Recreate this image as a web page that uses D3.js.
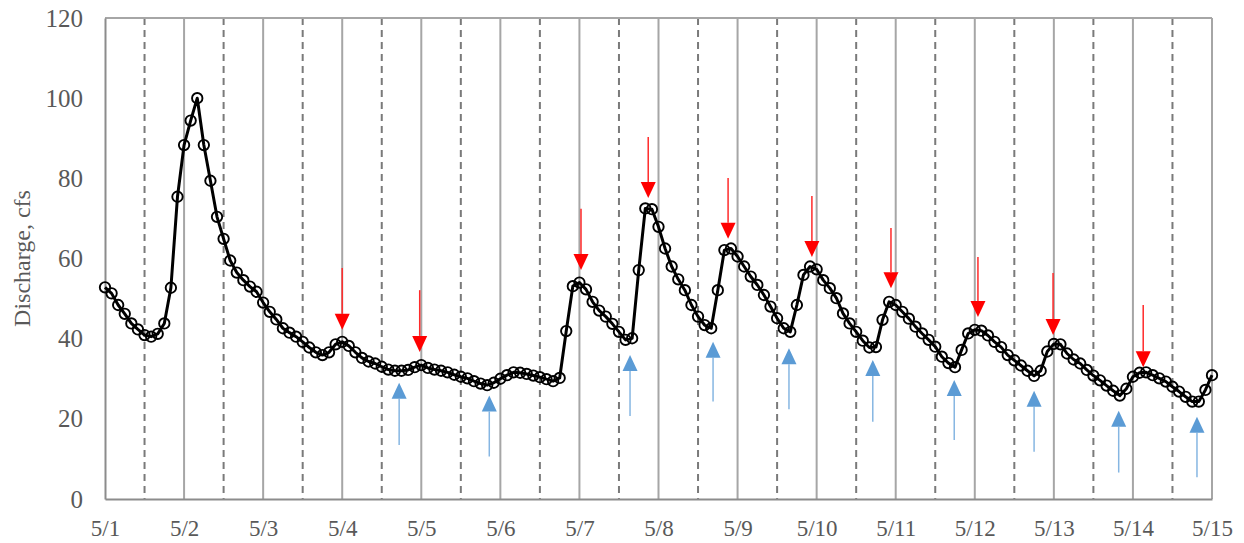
<!DOCTYPE html>
<html>
<head>
<meta charset="utf-8">
<script src="https://cdn.jsdelivr.net/npm/d3@7"></script>
<style>
  html, body { margin: 0; padding: 0; background: #fff; }
  svg { display: block; }
</style>
</head>
<body>
<svg id="chart"></svg>
<script>
// ── Data ─────────────────────────────────────────────
// 2-hourly discharge (cfs), 5/1 00:00 through 5/15 00:00
const START = Date.UTC(2019, 4, 1);
const STEP_HOURS = 2;
const discharge = [
  52.8, 51.3, 48.4, 46.2, 43.8, 42.3, 40.9, 40.5, 41.2, 43.8, 52.7, 75.4,
  88.3, 94.4, 100, 88.3, 79.4, 70.4, 64.9, 59.5, 56.5, 54.6, 53.0, 51.7,
  49.0, 46.7, 44.8, 42.6, 41.5, 40.5, 39.2, 37.8, 36.6, 35.9, 36.6, 38.6,
  39.2, 38.2, 36.6, 35.2, 34.3, 33.8, 33.0, 32.3, 32.0, 32.0, 32.2, 32.9,
  33.4, 32.7, 32.3, 32.0, 31.6, 31.0, 30.5, 30.1, 29.4, 28.8, 28.4, 29.0,
  30.0, 30.9, 31.6, 31.5, 31.2, 30.8, 30.4, 29.9, 29.4, 30.2, 41.9, 53.1,
  54.0, 52.3, 49.2, 47.0, 45.5, 43.7, 41.7, 39.7, 40.1, 57.1, 72.5, 72.3,
  67.9, 62.5, 58.0, 54.8, 52.1, 48.4, 45.5, 43.4, 42.6, 52.1, 62.1, 62.5,
  60.5, 58.0, 55.5, 53.4, 50.9, 48.0, 45.1, 42.6, 41.7, 48.4, 55.9, 58.0,
  57.3, 54.6, 52.6, 50.1, 46.3, 43.8, 41.7, 39.5, 37.8, 37.9, 44.7, 49.2,
  48.4, 46.7, 45.0, 43.0, 41.3, 39.7, 38.0, 35.5, 33.9, 32.9, 37.2, 41.3,
  42.2, 42.0, 40.8, 39.2, 37.9, 35.9, 34.6, 33.3, 32.0, 30.7, 32.0, 36.8,
  38.7, 38.6, 36.3, 34.8, 33.8, 32.2, 30.8, 29.6, 28.3, 27.0, 25.8, 27.5,
  30.5, 31.5, 31.6, 30.9, 30.1, 29.3, 28.0, 26.8, 25.5, 24.3, 24.3, 27.2,
  30.9
];

// peak markers (red, pointing down): day offset from 5/1, tip value, tail value
const peakDay  = [3.0, 3.98, 6.02, 6.87, 7.88, 8.94, 9.94, 11.04, 11.99, 13.13];
const peakTip  = [42.2, 36.7, 57.1, 75.1, 64.9, 60.4, 52.6, 45.4, 40.9, 32.9];
const peakTail = [57.6, 52.1, 72.4, 90.3, 80.1, 75.6, 67.6, 60.4, 56.4, 48.4];

// trough markers (blue, pointing up)
const troughDay  = [3.72, 4.86, 6.64, 7.69, 8.65, 9.71, 10.74, 11.75, 12.82, 13.81];
const troughTip  = [29.0, 25.8, 35.9, 39.2, 37.6, 34.7, 29.7, 27.0, 22.0, 20.5];
const troughTail = [13.5, 10.6, 20.7, 24.3, 22.4, 19.3, 14.7, 11.8, 6.6, 5.4];

const yTicks = [0, 20, 40, 60, 80, 100, 120];
const yLabel = 'Discharge, cfs';

// ── Layout ───────────────────────────────────────────
const W = 1244, H = 543;
const margin = { top: 18, right: 32, bottom: 44, left: 105 };
const iW = W - margin.left - margin.right;
const iH = H - margin.top - margin.bottom;
const FONT = '"Liberation Serif", "Times New Roman", serif';
const TEXT = '#595959';

const DAY = 24 * 3600 * 1000;
const series = discharge.map((v, i) => ({ t: new Date(START + i * STEP_HOURS * 3600 * 1000), v }));
const dayAt = d => new Date(START + d * DAY);

const svg = d3.select('#chart').attr('width', W).attr('height', H);
const g = svg.append('g').attr('transform', `translate(${margin.left},${margin.top})`);

const x = d3.scaleUtc().domain([new Date(START), new Date(START + 14 * DAY)]).range([0, iW]);
const y = d3.scaleLinear().domain([0, 120]).range([iH, 0]);

// ── Grid: solid at midnight, dashed at noon ──────────
const midnights = d3.utcDay.range(new Date(START), new Date(START + 14 * DAY + 1));
const noons = midnights.slice(0, -1).map(d => d3.utcHour.offset(d, 12));

g.append('g').selectAll('line').data(noons).join('line')
  .attr('x1', d => x(d)).attr('x2', d => x(d))
  .attr('y1', 0).attr('y2', iH)
  .attr('stroke', '#7a7a7a').attr('stroke-width', 2)
  .attr('stroke-dasharray', '7 5');

g.append('g').selectAll('line').data(midnights.slice(1)).join('line')
  .attr('x1', d => x(d)).attr('x2', d => x(d))
  .attr('y1', 0).attr('y2', iH)
  .attr('stroke', '#a6a6a6').attr('stroke-width', 2);

// top border
g.append('line')
  .attr('x1', 0).attr('x2', iW).attr('y1', 0).attr('y2', 0)
  .attr('stroke', '#a6a6a6').attr('stroke-width', 2);

// ── Axes ─────────────────────────────────────────────
const axisStyle = size => sel => sel
  .call(ax => ax.select('.domain').attr('stroke', '#8c8c8c').attr('stroke-width', 2))
  .call(ax => ax.selectAll('.tick line').remove())
  .call(ax => ax.selectAll('text').attr('fill', TEXT).attr('font-size', size).attr('font-family', FONT));

g.append('g')
  .call(d3.axisLeft(y).tickValues(yTicks).tickSize(0).tickPadding(22).tickSizeOuter(0))
  .call(axisStyle(25));

g.append('g')
  .attr('transform', `translate(0,${iH})`)
  .call(d3.axisBottom(x).tickValues(midnights).tickFormat(d3.utcFormat('%-m/%-d')).tickSize(0).tickPadding(21).tickSizeOuter(0))
  .call(axisStyle(23));

svg.append('text')
  .attr('transform', `translate(30,${margin.top + iH / 2}) rotate(-90)`)
  .attr('text-anchor', 'middle')
  .attr('fill', TEXT).attr('font-size', 24).attr('font-family', FONT)
  .text(yLabel);

// ── Series ───────────────────────────────────────────
const line = d3.line().x(d => x(d.t)).y(d => y(d.v));

g.append('path')
  .datum(series)
  .attr('d', line)
  .attr('fill', 'none')
  .attr('stroke', '#000')
  .attr('stroke-width', 3)
  .attr('stroke-linejoin', 'round');

g.append('g').selectAll('circle').data(series).join('circle')
  .attr('cx', d => x(d.t)).attr('cy', d => y(d.v))
  .attr('r', 5.2)
  .attr('fill', 'none')
  .attr('stroke', '#000')
  .attr('stroke-width', 1.9);

// ── Arrows ───────────────────────────────────────────
const HEAD_W = 15, HEAD_H = 16;

function drawArrows(days, tips, tails, color, lineColor) {
  days.forEach((d, i) => {
    const px = x(dayAt(d));
    const ty = y(tips[i]);
    const ly = y(tails[i]);
    const dir = ly < ty ? -1 : 1;          // -1: tail above tip (pointing down)
    const base = ty + dir * HEAD_H;
    g.append('line')
      .attr('x1', px).attr('x2', px)
      .attr('y1', ly).attr('y2', base)
      .attr('stroke', lineColor).attr('stroke-width', 1.5);
    g.append('path')
      .attr('d', `M${px},${ty} L${px - HEAD_W / 2},${base} L${px + HEAD_W / 2},${base} Z`)
      .attr('fill', color);
  });
}

drawArrows(peakDay, peakTip, peakTail, '#ff0000', '#ff2a2a');
drawArrows(troughDay, troughTip, troughTail, '#5b9bd5', '#86b6e2');
</script>
</body>
</html>
